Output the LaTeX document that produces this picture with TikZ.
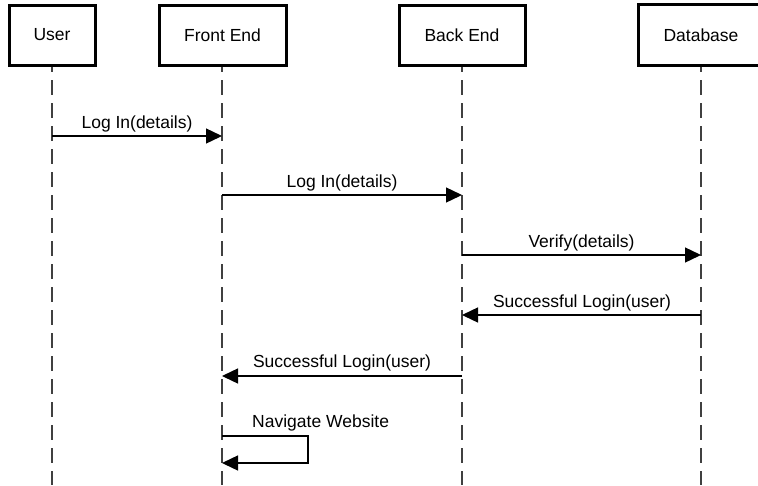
\documentclass[tikz,border=0pt]{standalone}
\usepackage{fontspec}
\setmainfont{Liberation Sans}
\usetikzlibrary{arrows.meta}
\begin{document}
\begin{tikzpicture}[x=1pt,y=-1pt,
  actor/.style={draw=black, line width=3pt, fill=white, minimum height=60pt, inner sep=0pt,
                font=\fontsize{17.5}{20}\selectfont},
  lifeline/.style={line width=1.6pt, black!75, dash pattern=on 15pt off 8pt},
  msg/.style={line width=1.4pt, -{Triangle[length=16pt,width=15pt]}},
  lbl/.style={font=\fontsize{17.5}{20}\selectfont, anchor=base, inner sep=0pt}]
  \useasboundingbox (0,0) rectangle (758,485);

  % lifelines
  \coordinate (uB) at (52,485);
  \coordinate (fB) at (222,485);
  \coordinate (bB) at (462,485);
  \coordinate (dB) at (701,485);
  \draw[lifeline, dash phase=-15pt] (52,65) -- (uB);
  \draw[lifeline, dash phase=-15pt] (222,65) -- (fB);
  \draw[lifeline, dash phase=-15pt] (462,65) -- (bB);
  \draw[lifeline, dash phase=-15pt] (701,65) -- (dB);

  % participants; the last box is cut off by the right edge
  \node[actor, minimum width=86pt]  (user) at (52,35)  {User};
  \node[actor, minimum width=127pt] (fe)   at (222.5,35) {Front End};
  \node[actor, minimum width=126pt] (be)   at (462,35) {Back End};
  \node[fill=white, minimum height=60pt, minimum width=120pt, inner sep=0pt, anchor=west] (db) at (638,35) {};
  \draw[line width=3pt] (db.north east) -- (db.north west) -- (db.south west) -- (db.south east);
  \node[font=\fontsize{17.5}{20}\selectfont, inner sep=0pt] (dbt) at (701,35) {Database};

  % message anchors on the lifelines
  \coordinate (u1) at (52,136);  \coordinate (f1) at (222,136);
  \coordinate (f2) at (222,195); \coordinate (b2) at (462,195);
  \coordinate (b3) at (462,255); \coordinate (d3) at (701,255);
  \coordinate (d4) at (701,315); \coordinate (b4) at (462,315);
  \coordinate (b5) at (462,376); \coordinate (f5) at (222,376);
  \coordinate (f6) at (222,436); \coordinate (f7) at (222,463);

  \draw[msg] (u1) -- (f1);
  \node[lbl] at (137,128) {Log In(details)};
  \draw[msg] (f2) -- (b2);
  \node[lbl] at (342,187) {Log In(details)};
  \draw[msg] (b3) -- (d3);
  \node[lbl] at (581.5,247) {Verify(details)};
  \draw[msg] (d4) -- (b4);
  \node[lbl] at (582,307) {Successful Login(user)};
  \draw[msg] (b5) -- (f5);
  \node[lbl] at (342,367) {Successful Login(user)};
  \draw[msg] (f6) -- (308,436) -- (308,463) -- (f7);
  \node[lbl, anchor=base west] at (252,427) {Navigate Website};
\end{tikzpicture}
\end{document}
